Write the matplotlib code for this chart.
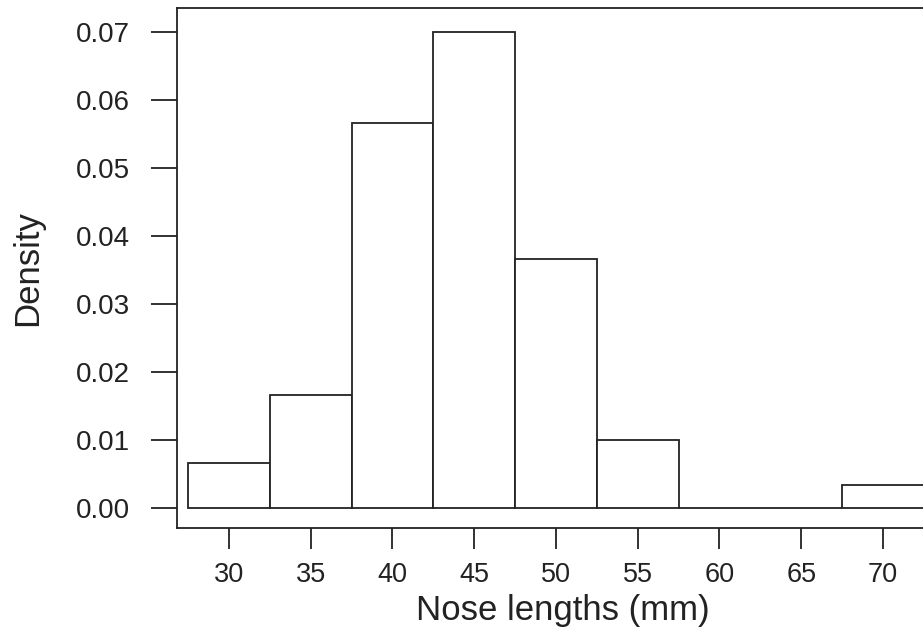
import matplotlib
matplotlib.use("Agg")
import matplotlib.pyplot as plt
import numpy as np

# Histogram data (bin edges and counts, n = 60)
bin_edges = [27.5, 32.5, 37.5, 42.5, 47.5, 52.5, 57.5, 62.5, 67.5, 72.5]
counts = [2, 5, 17, 21, 11, 3, 0, 0, 1]
x_ticks = [30, 35, 40, 45, 50, 55, 60, 65, 70]
y_ticks = [0.00, 0.01, 0.02, 0.03, 0.04, 0.05, 0.06, 0.07]
x_label = "Nose lengths (mm)"
y_label = "Density"

plt.rcParams['font.family'] = ['Liberation Sans', 'DejaVu Sans']

W, H = 923, 632
fig = plt.figure(figsize=(W / 100, H / 100), dpi=100)
left_px, right_px, top_px, bottom_px = 177, 948.4, 7.5, 527.7
ax = fig.add_axes([left_px / W, 1 - bottom_px / H,
                   (right_px - left_px) / W, (bottom_px - top_px) / H])

edges = np.array(bin_edges)
widths = np.diff(edges)
n = sum(counts)
density = np.array(counts) / (n * widths)

ax.bar(edges[:-1], density, width=widths, align='edge',
       facecolor='white', edgecolor='#222222', linewidth=1.3)

ax.set_xlim(26.82, 74.0)
ax.set_ylim(-0.0029, 0.0736)
ax.set_xticks(x_ticks)
ax.set_yticks(y_ticks)
ax.set_yticklabels([f"{v:.2f}" for v in y_ticks])

for s in ax.spines.values():
    s.set_linewidth(1.3)
    s.set_color('#222222')

ax.tick_params(axis='y', length=19, width=1.3, color='#222222', pad=15,
               labelsize=20, labelcolor='#222222')
ax.tick_params(axis='x', length=15, width=1.3, color='#222222', pad=10,
               labelsize=19.5, labelcolor='#222222')

ax.set_xlabel(x_label, fontsize=25, color='#222222', labelpad=4)
ax.set_ylabel(y_label, fontsize=25, color='#222222', labelpad=23)

fig.savefig("out.png", dpi=100)
